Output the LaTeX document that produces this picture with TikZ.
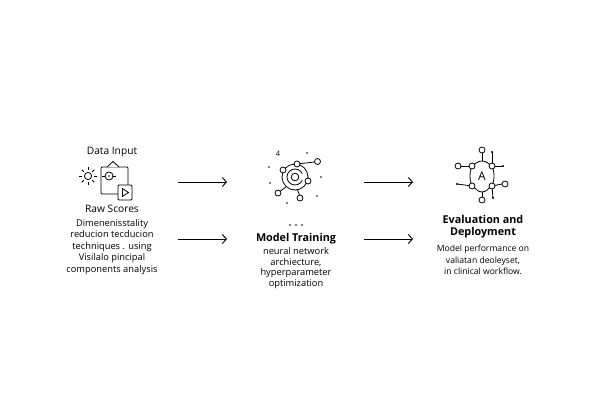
\documentclass[tikz,border=0pt]{standalone}
\usepackage{fontspec}
\setmainfont{Open Sans}
\usetikzlibrary{arrows.meta}
\tikzset{
  txt/.style={align=center, inner sep=0pt, font=\fontsize{8.6}{11.4}\selectfont},
  ttl/.style={align=center, inner sep=0pt, font=\fontsize{10.8}{12}\selectfont\bfseries},
  ico/.style={line width=0.8pt},
  flow/.style={line width=0.9pt, -{Straight Barb[length=4pt,width=9pt]}},
}
\begin{document}
\begin{tikzpicture}[x=1pt,y=-1pt]
  \useasboundingbox[fill=white] (0,0) rectangle (600,420);
  % data input
  \node[txt, font=\fontsize{10.2}{12}\selectfont] (datain) at (112,152) {Data Input};
  \draw[ico] (88,176) circle (3.6);
  \foreach \a in {0,45,...,315}
    \draw[ico] (88,176) ++(\a:6) -- ++(\a:3);
  \draw[ico, rounded corners=1pt] (101,167) rectangle (128,194);
  \draw[ico, fill=white] (107,167) -- (113,161.5) -- (119,167);
  \draw[ico] (109,176) circle (4);
  \fill (109,176) circle (0.9);
  \draw[ico] (102,176) -- (105,176) (113,176) -- (116,176);
  \draw[ico, fill=white, rounded corners=1pt] (118,185) rectangle (132,200);
  \draw[ico] (122.5,188.5) -- (128.5,192.5) -- (122.5,196.5) -- cycle;
  \node[txt, font=\fontsize{10.2}{12}\selectfont] (rawsc) at (112,209) {Raw Scores};
  \node[txt, font=\fontsize{9.3}{11.5}\selectfont] (indesc) at (112,247) {Dimenenisstality\\reducion tecducion\\techniques . using\\Visilalo pincipal\\components analysis};
  % arrows 1
  \coordinate (a1) at (178,182); \coordinate (b1) at (227,182);
  \coordinate (a2) at (178,239); \coordinate (b2) at (227,239);
  \draw[flow] (a1) -- (b1);
  \draw[flow] (a2) -- (b2);
  % model training
  \node[txt, font=\fontsize{7.5}{7.5}\selectfont] (mlab) at (278,154) {4};
  \draw[ico] (295,177) circle (13);
  \draw[ico] (295,177) ++(25:8) arc (25:335:8);
  \draw[ico] (295,177) circle (3.8);
  \draw[ico] (297,164) -- (314.5,162);
  \draw[ico] (286,187) -- (280.5,191);
  \draw[ico] (297.5,190) -- (299.5,195);
  \foreach \p in {(283,170),(297,164),(308,181),(317.5,161.5),(278,193),(300,198)}
    \draw[ico, fill=white] \p circle (3);
  \foreach \p in {(307,153),(269,167),(270,183),(321,177),(287,203),(317,196)}
    \fill \p circle (0.9);
  \foreach \x in {290,296,302}
    \fill (\x,225) circle (0.9);
  \node[ttl] (mtitle) at (296,239) {Model Training};
  \node[txt, font=\fontsize{9.3}{10.4}\selectfont] (mdesc) at (296,268) {neural network\\archiecture,\\hyperparameter\\optimization};
  % arrows 2
  \coordinate (a3) at (364,182); \coordinate (b3) at (413,182);
  \coordinate (a4) at (364,239); \coordinate (b4) at (413,239);
  \draw[flow] (a3) -- (b3);
  \draw[flow] (a4) -- (b4);
  % evaluation
  \draw[ico] (472,166) to[out=30,in=180] (482,161) to[out=0,in=150] (492,166)
    to[out=-70,in=90] (494,176) to[out=-90,in=70] (492,186)
    to[out=-150,in=0] (482,192) to[out=180,in=-30] (472,186)
    to[out=110,in=-90] (470,176) to[out=90,in=-110] (472,166);
  \node[inner sep=0pt, font=\fontsize{12}{12}\selectfont] (evA) at (482,176.5) {A};
  \draw[ico] (482,161) -- (482,153);
  \draw[ico] (482,192) -- (482,197);
  \draw[ico] (461,166) -- (472,166);
  \draw[ico] (457,184) -- (472,186);
  \draw[ico] (492,166) -- (503,166);
  \draw[ico] (492,186) -- (502,184);
  \draw[ico] (492,152) -- (492,166);
  \draw[ico] (492,186) -- (493,198);
  \foreach \p in {(472,166),(492,166),(472,186),(492,186),(482,150),(482,200),(458,166),(505,184)}
    \draw[ico, fill=white] \p circle (3);
  \foreach \p in {(457,184),(503,166),(492,152),(493,198)}
    \fill \p circle (1.1);
  \node[ttl] (etitle) at (483,227) {Evaluation and\\Deployment};
  \node[txt] (edesc) at (483,260) {Model performance on\\valiatan deoleyset,\\in clinical workflow.};
\end{tikzpicture}
\end{document}
